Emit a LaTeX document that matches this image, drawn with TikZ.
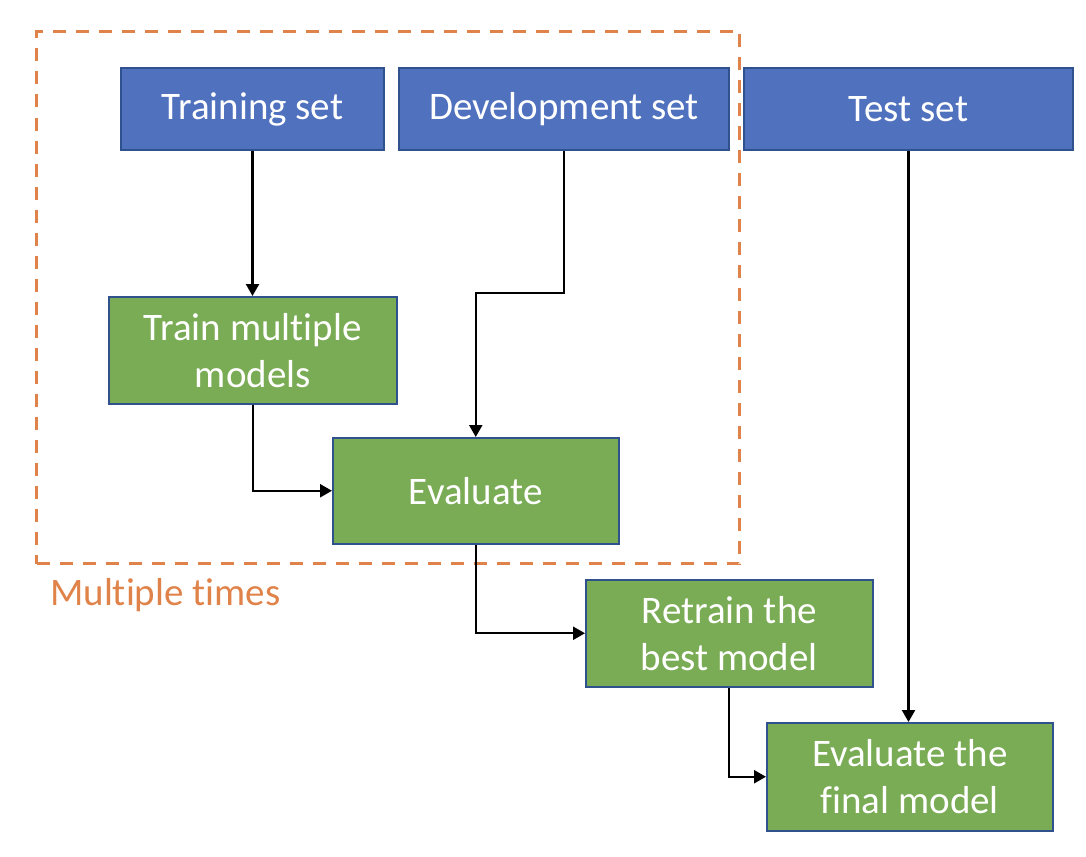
\documentclass[tikz,border=0pt]{standalone}
\usepackage{fontspec}
\setmainfont[Ligatures=NoCommon]{Carlito}
\usetikzlibrary{arrows.meta}
\definecolor{bfill}{HTML}{4F71BE}
\definecolor{bdraw}{HTML}{2F528F}
\definecolor{gfill}{HTML}{7AAB55}
\definecolor{orng}{HTML}{E0834A}
\begin{document}
\begin{tikzpicture}[x=1pt,y=-1pt,
  font=\fontsize{39}{47}\selectfont,
  box/.style={draw=bdraw, line width=1.5pt, text=white, align=center, inner sep=0pt, anchor=north west},
  bluebox/.style={box, fill=bfill, line width=2pt},
  greenbox/.style={box, fill=gfill},
  conn/.style={line width=2.3pt, -{Triangle[length=12pt,width=13pt]}}]
\useasboundingbox (0,0) rectangle (1086,856);
\node[bluebox, minimum width=263pt, minimum height=82pt] (train) at (120,67) {Training set};
\node[bluebox, minimum width=330pt, minimum height=82pt] (dev) at (398,67) {Development set};
\node[bluebox, minimum width=329pt, minimum height=82pt] (test) at (743,67) {Test set};
\node[greenbox, minimum width=288pt, minimum height=107pt] (tmm) at (108,296) {Train multiple\\models};
\node[greenbox, minimum width=286pt, minimum height=106pt] (eval) at (332,437) {Evaluate};
\node[greenbox, minimum width=287pt, minimum height=107pt] (retrain) at (585,579) {Retrain the\\best model};
\node[greenbox, minimum width=286pt, minimum height=108pt] (final) at (766,722) {Evaluate the\\final model};
\node[draw=orng, dashed, dash pattern=on 13pt off 10pt, line width=3pt, minimum width=703pt, minimum height=532pt, anchor=north west, inner sep=0pt] (grp) at (35,30) {};
\node[text=orng, anchor=north west, inner sep=0pt] (lbl) at (50,578) {Multiple times};
\coordinate (d1) at (dev.south |- 0,293);
\coordinate (e1) at (eval.north |- 0,293);
\draw[conn] (train.south) -- (train.south |- tmm.north);
\draw[conn] (dev.south) -- (d1) -- (e1) -- (eval.north);
\draw[conn] (tmm.south) |- (eval.west);
\draw[conn] (eval.south) |- (retrain.west);
\draw[conn] (test.south) -- (test.south |- final.north);
\draw[conn] (retrain.south) |- (final.west);
\end{tikzpicture}
\end{document}
